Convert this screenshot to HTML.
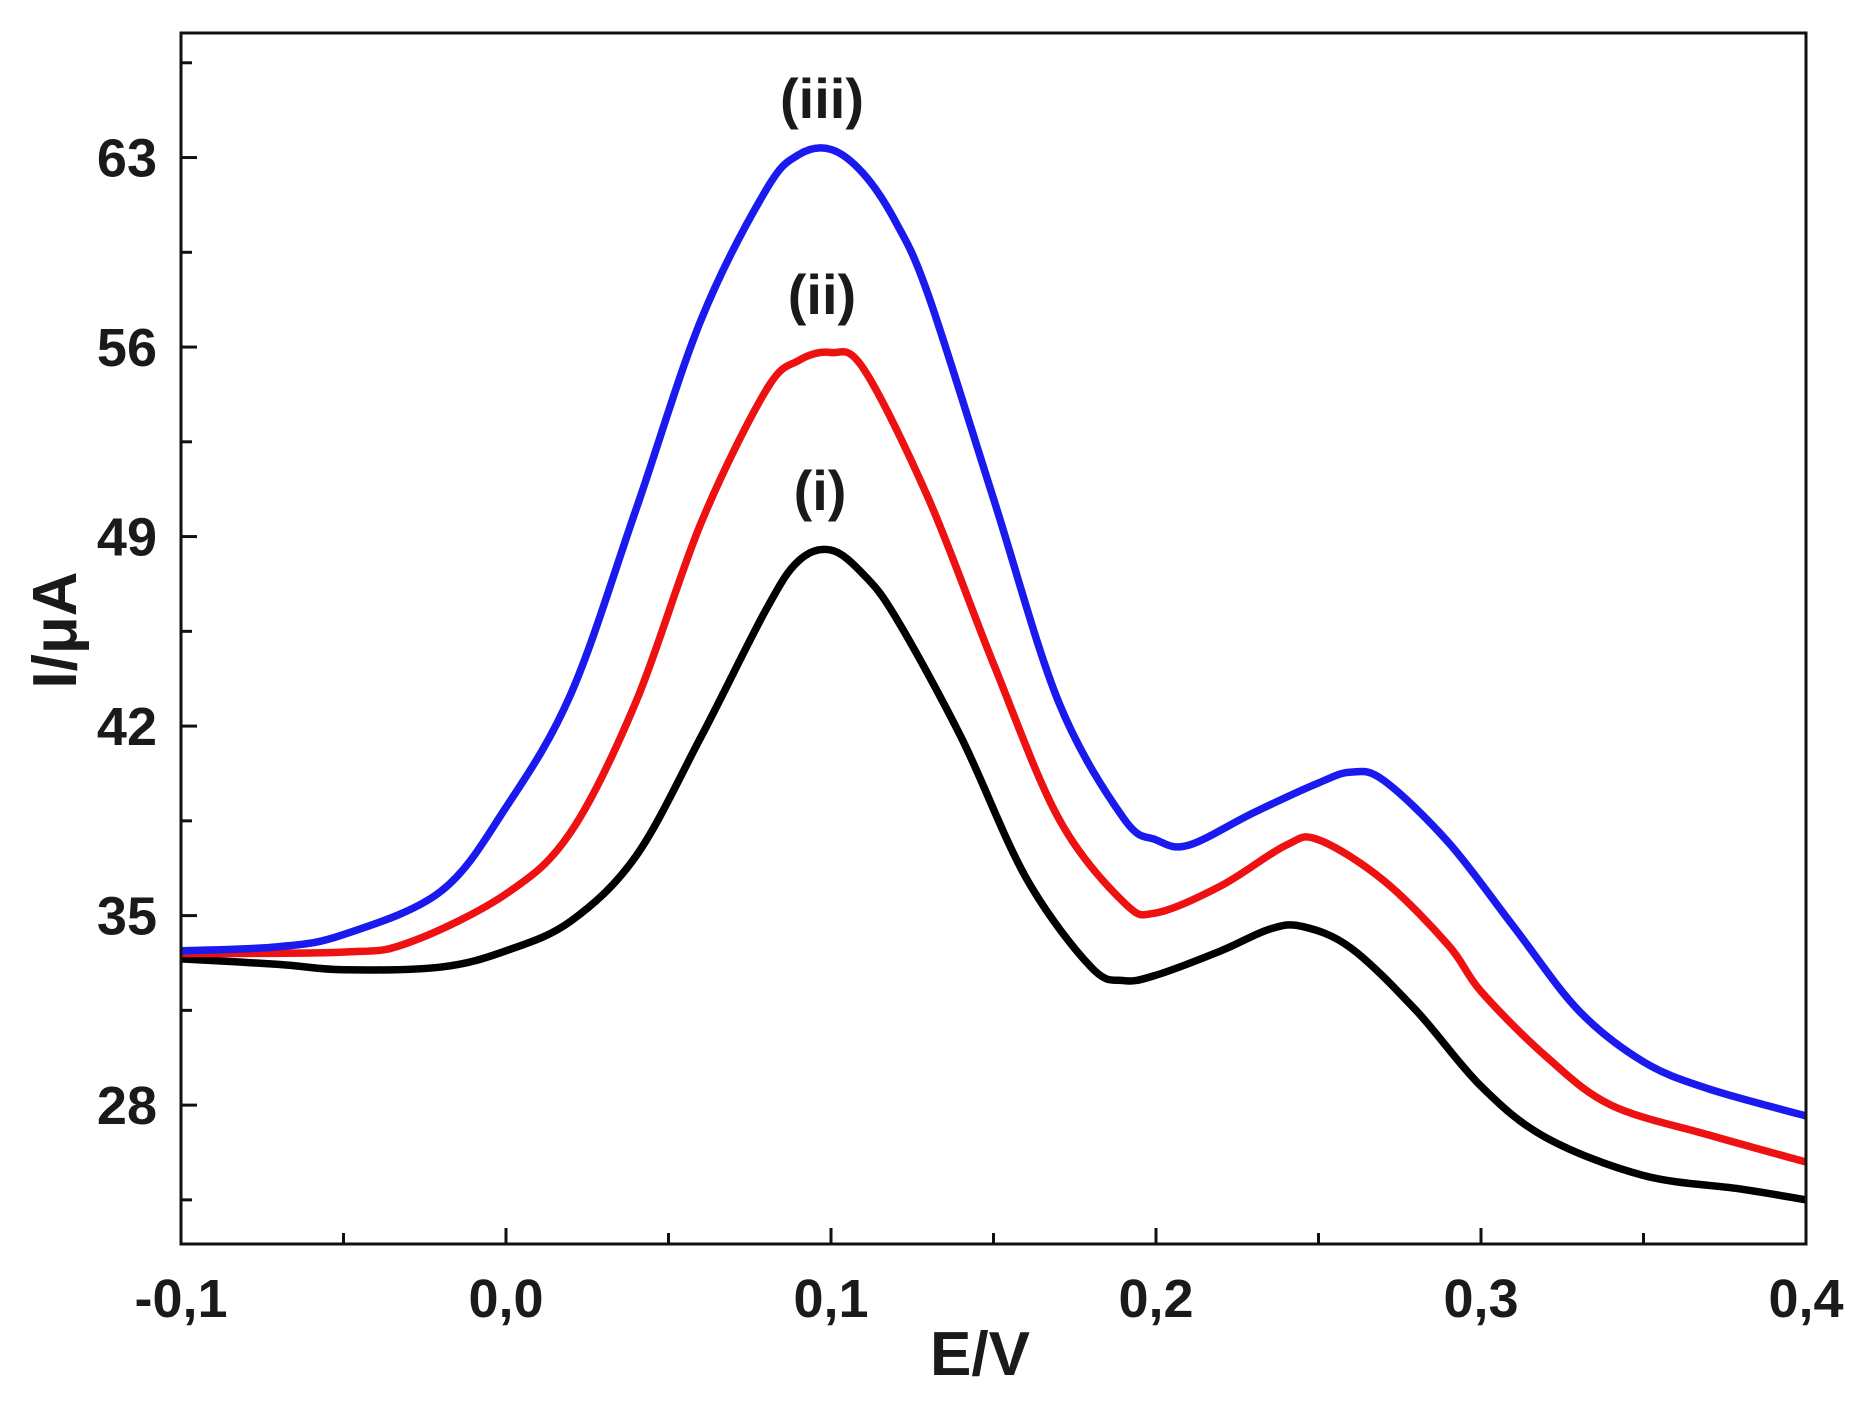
<!DOCTYPE html>
<html><head><meta charset="utf-8"><style>
html,body{margin:0;padding:0;background:#fff}
svg{display:block}
text{font-family:"Liberation Sans",Arial,sans-serif;font-weight:bold;fill:#1a1a1a}
</style></head><body>
<svg id="chart" width="1863" height="1406" viewBox="0 0 1863 1406"></svg>
<script>
const xTicks=[-0.1,0.0,0.1,0.2,0.3,0.4];
const xTickLabels=["-0,1","0,0","0,1","0,2","0,3","0,4"];
const yTicks=[28,35,42,49,56,63];
const yTickLabels=["28","35","42","49","56","63"];
const seriesIx=[-0.1,-0.07,-0.05,-0.02,0.0,0.02,0.04,0.06,0.08,0.09,0.1,0.11,0.12,0.14,0.16,0.18,0.19,0.2,0.22,0.235,0.245,0.26,0.28,0.30,0.32,0.35,0.38,0.4];
const seriesIy=[33.4,33.2,33.0,33.1,33.7,34.8,37.2,41.6,46.3,48.1,48.5,47.6,46.0,41.6,36.4,33.1,32.6,32.8,33.7,34.5,34.6,33.8,31.5,28.7,26.8,25.4,24.9,24.5];
const seriesIIx=[-0.1,-0.05,-0.03,0.0,0.02,0.04,0.06,0.08,0.09,0.1,0.11,0.13,0.15,0.17,0.19,0.2,0.22,0.24,0.25,0.27,0.29,0.30,0.32,0.34,0.37,0.4];
const seriesIIy=[33.6,33.65,34.0,35.8,38.1,42.9,49.5,54.4,55.5,55.8,55.2,50.4,44.3,38.6,35.5,35.1,36.1,37.6,37.8,36.3,33.9,32.2,29.8,28.0,26.9,25.9];
const seriesIIIx=[-0.1,-0.07,-0.05,-0.02,0.0,0.02,0.04,0.06,0.08,0.09,0.1,0.11,0.12,0.13,0.15,0.17,0.19,0.2,0.21,0.23,0.25,0.26,0.27,0.29,0.31,0.33,0.35,0.37,0.4];
const seriesIIIy=[33.7,33.85,34.3,35.9,39.0,43.2,50.0,57.0,61.8,63.1,63.3,62.4,60.6,57.9,50.4,42.9,38.6,37.8,37.6,38.8,39.9,40.3,40.0,37.7,34.6,31.5,29.6,28.6,27.6];

const L=181,R=1806,T=33,B=1244;
const xMin=-0.1,xMax=0.4,yMin=22.87,yMax=67.6;
const sx=v=>L+(v-xMin)/(xMax-xMin)*(R-L);
const sy=v=>B-(v-yMin)/(yMax-yMin)*(B-T);
const svg=document.getElementById('chart');
const NS='http://www.w3.org/2000/svg';
function mk(tag,attrs){const e=document.createElementNS(NS,tag);for(const k in attrs)e.setAttribute(k,attrs[k]);svg.appendChild(e);return e;}

function smoothPath(xs,ys){
  const p=xs.map((x,i)=>[sx(x),sy(ys[i])]);
  let d='M'+p[0][0]+','+p[0][1];
  for(let i=0;i<p.length-1;i++){
    const p0=p[i-1]||p[i],p1=p[i],p2=p[i+1],p3=p[i+2]||p2;
    const c1=[p1[0]+(p2[0]-p0[0])/6,p1[1]+(p2[1]-p0[1])/6];
    const c2=[p2[0]-(p3[0]-p1[0])/6,p2[1]-(p3[1]-p1[1])/6];
    d+=' C'+c1[0]+','+c1[1]+' '+c2[0]+','+c2[1]+' '+p2[0]+','+p2[1];
  }
  return d;
}
const series=[[seriesIx,seriesIy,'#000000','series-i-line'],[seriesIIx,seriesIIy,'#ee1111','series-ii-line'],[seriesIIIx,seriesIIIy,'#1a1aee','series-iii-line']];
series.forEach(s=>{
  const e=mk('path',{d:smoothPath(s[0],s[1]),fill:'none',stroke:s[2],'stroke-width':7.5,'stroke-linejoin':'round'});
  
  
});

const frame=mk('rect',{x:L,y:T,width:R-L,height:B-T,fill:'none',stroke:'#111','stroke-width':3});



for(let v=-0.1;v<=0.4001;v+=0.05){
  const major=Math.abs(Math.round(v*10)-v*10)<1e-6;
  const t=mk('line',{x1:sx(v),x2:sx(v),y1:B,y2:B-(major?16:11),stroke:'#111','stroke-width':3});
  
  
}
xTicks.forEach((v,i)=>{
  const t=mk('text',{x:sx(v),y:1317,'text-anchor':'middle','font-size':54});
  t.textContent=xTickLabels[i];
  
  
});
for(let v=24.5;v<=67;v+=3.5){
  const major=yTicks.some(y=>Math.abs(y-v)<1e-6);
  const t=mk('line',{x1:L,x2:L+(major?16:11),y1:sy(v),y2:sy(v),stroke:'#111','stroke-width':3});
  
  
}
yTicks.forEach((v,i)=>{
  const t=mk('text',{x:157,y:sy(v)+19,'text-anchor':'end','font-size':54});
  t.textContent=yTickLabels[i];
  
  
});
const xt=mk('text',{x:980,y:1375,'text-anchor':'middle','font-size':62});
xt.textContent='E/V';


const yt=mk('text',{x:76,y:630,'text-anchor':'middle','font-size':62,transform:'rotate(-90 76 630)'});
yt.textContent='I/μA';



const labels=[['(iii)',822,118,'label-iii'],['(ii)',822,314,'label-ii'],['(i)',820,510,'label-i']];
labels.forEach(l=>{
  const t=mk('text',{x:l[1],y:l[2],'text-anchor':'middle','font-size':56});
  t.textContent=l[0];
  
  
});
</script>
</body></html>
